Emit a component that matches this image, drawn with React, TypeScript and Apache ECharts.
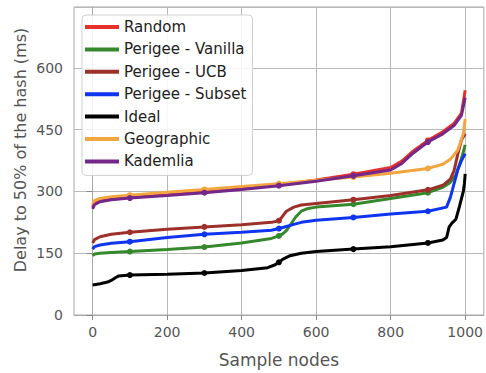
import React, { useEffect, useRef } from "react";
import * as echarts from "echarts";

const seriesNames = ["Random", "Perigee - Vanilla", "Perigee - UCB", "Perigee - Subset", "Ideal", "Geographic", "Kademlia"];
const seriesColors = ["#e5302c", "#36882c", "#9e302b", "#1035f0", "#000000", "#f2a640", "#74288a"];

const randomX = [0, 5, 20, 50, 100, 200, 300, 400, 500, 600, 700, 800, 830, 860, 900, 940, 970, 990, 1000];
const randomY = [262, 272, 278, 282, 286, 292, 299, 307, 316, 328, 342, 358, 374, 398, 424, 445, 465, 490, 546];

const vanillaX = [0, 5, 20, 50, 100, 200, 300, 400, 480, 500, 510, 520, 530, 545, 560, 575, 600, 700, 800, 900, 940, 960, 975, 990, 1000];
const vanillaY = [144, 148, 150, 152, 154, 159, 165, 175, 186, 192, 197, 205, 218, 238, 252, 258, 262, 269, 283, 297, 310, 322, 340, 380, 413];

const ucbX = [0, 5, 20, 50, 100, 200, 300, 400, 480, 500, 510, 520, 540, 560, 600, 700, 800, 900, 940, 960, 970, 980, 990, 1000];
const ucbY = [175, 183, 190, 196, 201, 208, 214, 219, 225, 229, 240, 252, 262, 267, 271, 280, 290, 304, 315, 330, 350, 390, 425, 440];

const subsetX = [0, 5, 20, 50, 100, 200, 300, 400, 480, 500, 520, 540, 560, 600, 700, 800, 900, 950, 960, 966, 980, 990, 1000];
const subsetY = [160, 166, 170, 174, 178, 188, 196, 201, 206, 210, 215, 220, 225, 230, 237, 245, 252, 262, 285, 305, 352, 375, 392];

const idealX = [0, 20, 40, 50, 60, 70, 100, 200, 300, 400, 470, 490, 500, 510, 530, 560, 600, 700, 800, 900, 940, 950, 957, 965, 975, 985, 995, 998, 1000];
const idealY = [73, 76, 80, 84, 90, 95, 97, 99, 102, 108, 115, 122, 128, 135, 144, 150, 154, 160, 166, 175, 182, 188, 214, 224, 232, 265, 300, 320, 343];

const geoX = [0, 5, 20, 50, 100, 200, 300, 400, 500, 600, 700, 800, 900, 940, 960, 980, 995, 1000];
const geoY = [268, 278, 283, 287, 291, 298, 305, 312, 319, 327, 335, 344, 356, 366, 378, 400, 440, 476];

const kadX = [0, 5, 20, 50, 100, 200, 300, 400, 500, 600, 700, 800, 830, 860, 900, 940, 970, 990, 1000];
const kadY = [258, 268, 275, 280, 284, 290, 297, 305, 314, 325, 338, 352, 368, 393, 420, 440, 460, 485, 528];

const markerX = [100, 300, 500, 700, 900];
const xTicks = [0, 200, 400, 600, 800, 1000];

const allX = [randomX, vanillaX, ucbX, subsetX, idealX, geoX, kadX];
const allY = [randomY, vanillaY, ucbY, subsetY, idealY, geoY, kadY];

const FONT = "DejaVu Sans";

export default function App() {
  const ref = useRef<HTMLDivElement>(null);
  useEffect(() => {
    if (!ref.current) return;
    const chart = echarts.init(ref.current, null, { renderer: "svg" });
    const series = seriesNames.map((name, i) => ({
      name,
      type: "line",
      data: allX[i].map((x, j) => [x, allY[i][j]]),
      color: seriesColors[i],
      lineStyle: { width: 3, color: seriesColors[i] },
      itemStyle: { color: seriesColors[i] },
      symbol: "circle",
      showSymbol: true,
      showAllSymbol: true,
      symbolSize: (v: number[]) => (markerX.includes(v[0]) ? 6 : 0),
      smooth: false,
      z: 2 + i,
    }));
    chart.setOption({
      animation: false,
      backgroundColor: "#ffffff",
      textStyle: { fontFamily: FONT },
      grid: {
        left: 74,
        top: 7,
        width: 413,
        bottom: 52,
        show: true,
        borderColor: "#a8a8a8",
        borderWidth: 1,
        backgroundColor: "transparent",
      },
      legend: {
        orient: "vertical",
        left: 82,
        top: 15,
        padding: [3, 6, 5, 3],
        icon: "rect",
        itemWidth: 34,
        itemHeight: 4,
        itemGap: 4.4,
        itemTextGap: 10,
        backgroundColor: "rgba(255,255,255,0.85)",
        borderColor: "#d0d0d0",
        borderWidth: 1,
        borderRadius: 4,
        textStyle: { fontFamily: FONT, fontSize: 15, color: "#222", lineHeight: 18 },
        data: seriesNames,
      },
      xAxis: {
        type: "value",
        min: -50,
        max: 1050,
        splitNumber: 5,
        axisLine: { show: true, lineStyle: { color: "#a8a8a8" } },
        axisTick: { show: true, length: 5, customValues: xTicks, lineStyle: { color: "#888" } },
        axisLabel: {
          customValues: xTicks,
          formatter: (v: number) => String(v),
          fontFamily: FONT,
          fontSize: 14,
          color: "#555",
          margin: 10,
        },
        splitLine: { show: true, lineStyle: { color: "#b8b8b8", width: 1 } },
        name: "Sample nodes",
        nameLocation: "middle",
        nameGap: 36,
        nameTextStyle: { fontFamily: FONT, fontSize: 17, color: "#555" },
      },
      yAxis: {
        type: "value",
        min: 0,
        max: 748,
        interval: 150,
        axisLine: { show: true, lineStyle: { color: "#a8a8a8" } },
        axisTick: { show: true, length: 6, lineStyle: { color: "#888" } },
        axisLabel: {
          fontFamily: FONT,
          fontSize: 14,
          color: "#555",
          margin: 11,
          showMaxLabel: false,
        },
        splitLine: { show: true, lineStyle: { color: "#b8b8b8", width: 1 } },
      },
      graphic: [
        {
          type: "text",
          x: 20,
          y: 150,
          rotation: Math.PI / 2,
          style: {
            text: "Delay to 50% of the hash (ms)",
            fontFamily: FONT,
            fontSize: 16,
            fill: "#555",
            textAlign: "center",
            textVerticalAlign: "middle",
          },
        },
      ],
      series,
    });
    return () => chart.dispose();
  }, []);
  return <div ref={ref} style={{ width: 486, height: 373, position: "absolute", left: 0, top: 0 }} />;
}
